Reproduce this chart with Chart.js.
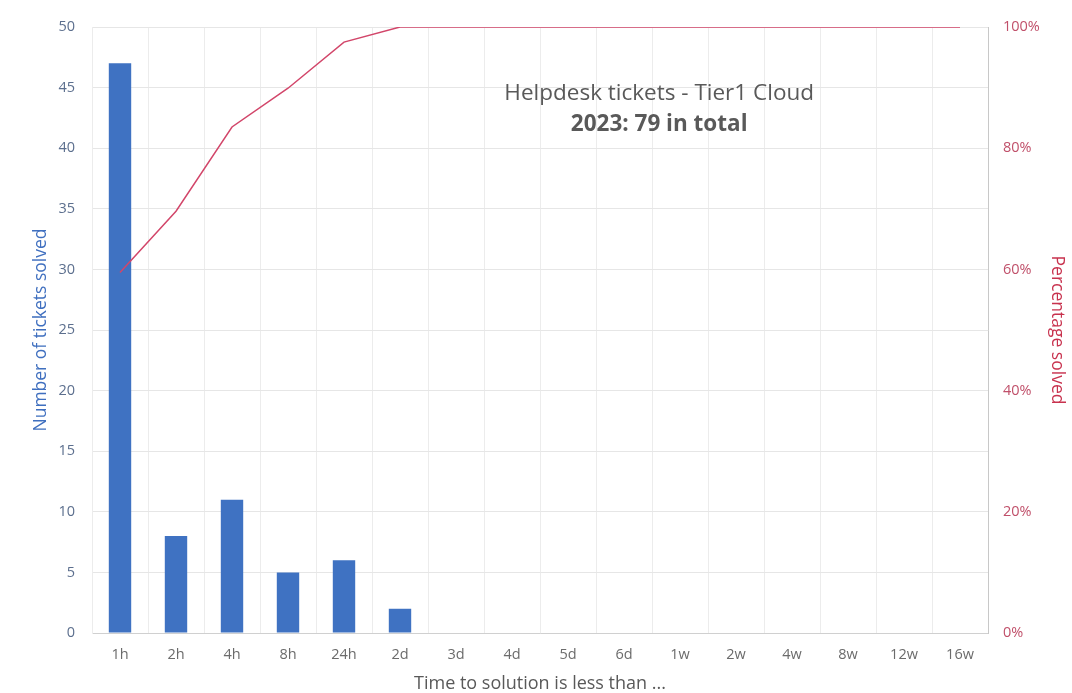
<!DOCTYPE html>
<html>
<head>
<meta charset="utf-8">
<script src="https://cdn.jsdelivr.net/npm/chart.js@4.4.1/dist/chart.umd.min.js"></script>
<style>
  body { margin: 0; background: #fff; }
  #wrap { width: 1072px; height: 693px; }
</style>
</head>
<body>
<div id="wrap"><canvas id="myChart"></canvas></div>
<script>
const labels = ['1h', '2h', '4h', '8h', '24h', '2d', '3d', '4d', '5d', '6d', '1w', '2w', '4w', '8w', '12w', '16w'];
const ticketsSolved = [47, 8, 11, 5, 6, 2, 0, 0, 0, 0, 0, 0, 0, 0, 0, 0];
const percentSolved = [59.5, 69.6, 83.5, 89.9, 97.5, 100, 100, 100, 100, 100, 100, 100, 100, 100, 100, 100];
const titleLines = ['Helpdesk tickets - Tier1 Cloud', '2023: 79 in total'];

const fontFamily = '"Open Sans", Lato, sans-serif';

// title sits inside the plot area
const insideTitle = {
    id: 'insideTitle',
    afterDraw(chart) {
        const { ctx, chartArea } = chart;
        const x = chartArea.left + (chartArea.right - chartArea.left) * 0.633;
        ctx.save();
        ctx.textAlign = 'center';
        ctx.textBaseline = 'middle';
        ctx.fillStyle = '#595959';
        ctx.font = '22.5px ' + fontFamily;
        ctx.fillText(titleLines[0], x, 94);
        ctx.font = 'bold 22.5px ' + fontFamily;
        ctx.fillText(titleLines[1], x, 125);
        ctx.restore();
    }
};

const ctx = document.getElementById('myChart').getContext('2d');
const myChart = new Chart(ctx, {
    type: 'bar',
    data: {
        labels: labels,
        datasets: [{
            type: 'line',
            label: 'Percentage solved',
            data: percentSolved,
            yAxisID: 'y1',
            borderColor: '#d2466a',
            borderWidth: 1.5,
            pointRadius: 0,
            tension: 0,
            order: 0
        }, {
            label: 'Number of tickets solved',
            data: ticketsSolved,
            yAxisID: 'y',
            backgroundColor: '#3f72c2',
            barPercentage: 0.4,
            categoryPercentage: 1.0,
            order: 1
        }]
    },
    plugins: [insideTitle],
    options: {
        responsive: true,
        maintainAspectRatio: false,
        animation: false,
        layout: { padding: { top: 27, left: 0, right: 0, bottom: 0 } },
        plugins: {
            legend: { display: false },
            tooltip: { enabled: false }
        },
        scales: {
            x: {
                afterFit: (s) => { s.height = 60; },
                grid: { color: '#ececec', drawTicks: false },
                border: { color: '#d0d0d0' },
                ticks: { color: '#6b6b6b', font: { family: fontFamily, size: 14.5 }, padding: 13 },
                title: {
                    display: true,
                    text: 'Time to solution is less than ...',
                    color: '#595959',
                    font: { family: fontFamily, size: 18, lineHeight: 1 },
                    padding: { top: 0, bottom: 0 }
                }
            },
            y: {
                position: 'left',
                min: 0,
                max: 50,
                afterFit: (s) => { s.width = 92; },
                grid: { color: '#e6e6e6', drawTicks: false },
                border: { color: '#ececec' },
                ticks: { stepSize: 5, color: '#5c6f8e', font: { family: fontFamily, size: 14.5 }, padding: 17 },
                title: {
                    display: true,
                    text: 'Number of tickets solved',
                    color: '#3f6fbf',
                    font: { family: fontFamily, size: 17.5 },
                    padding: { top: 31, bottom: 0 }
                }
            },
            y1: {
                position: 'right',
                min: 0,
                max: 100,
                afterFit: (s) => { s.width = 84; },
                grid: { display: false, drawTicks: false },
                border: { color: '#c8c8c8' },
                ticks: {
                    stepSize: 20,
                    color: '#c0506a',
                    font: { family: fontFamily, size: 14.5 },
                    padding: 15,
                    callback: (v) => v + '%'
                },
                title: {
                    display: true,
                    text: 'Percentage solved',
                    color: '#c8324e',
                    font: { family: fontFamily, size: 17.5 },
                    padding: { top: 5, bottom: 0 }
                }
            }
        }
    }
});
</script>
</body>
</html>
